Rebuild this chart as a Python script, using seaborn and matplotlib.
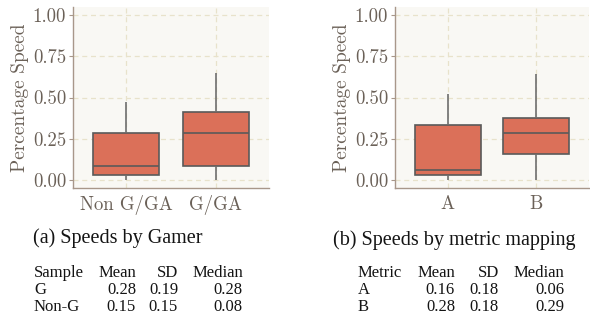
import numpy as np
import pandas as pd
import matplotlib
matplotlib.use("Agg")
import matplotlib.pyplot as plt
import seaborn as sns

# ---- data ----
gamer_cats = ["Non G/GA", "G/GA"]
nong_vals = [0.0, 0.026, 0.081, 0.287, 0.475]
g_vals = [0.0, 0.085, 0.287, 0.414, 0.647]

metric_cats = ["A", "B"]
a_vals = [0.0, 0.026, 0.060, 0.333, 0.519]
b_vals = [0.0, 0.156, 0.287, 0.378, 0.642]

yticks = [0.00, 0.25, 0.50, 0.75, 1.00]

table_a_header = ["Sample", "Mean", "SD", "Median"]
table_a_rows = [["G", "0.28", "0.19", "0.28"],
                ["Non-G", "0.15", "0.15", "0.08"]]
table_b_header = ["Metric", "Mean", "SD", "Median"]
table_b_rows = [["A", "0.16", "0.18", "0.06"],
                ["B", "0.28", "0.18", "0.29"]]
caption_a = "(a) Speeds by Gamer"
caption_b = "(b) Speeds by metric mapping"

df_a = pd.DataFrame({"group": [gamer_cats[0]] * len(nong_vals) + [gamer_cats[1]] * len(g_vals),
                     "speed": nong_vals + g_vals})
df_b = pd.DataFrame({"group": [metric_cats[0]] * len(a_vals) + [metric_cats[1]] * len(b_vals),
                     "speed": a_vals + b_vals})

sns.set_theme(style="white")
plt.rcParams["font.family"] = ["cmr10", "DejaVu Serif"]
plt.rcParams["axes.formatter.use_mathtext"] = True

W, H = 590, 320
fig = plt.figure(figsize=(W / 100, H / 100), dpi=100)
fig.patch.set_facecolor("white")

def px_axes(x0, y0, x1, y1):
    return fig.add_axes([x0 / W, 1 - y1 / H, (x1 - x0) / W, (y1 - y0) / H])

ax1 = px_axes(73, 7, 269, 188)
ax2 = px_axes(395, 7, 589, 188)

box_fill = "#db7059"
edge = "#5a5a5a"
spine_c = "#a8978a"
tick_c = "#6b6158"
bg = "#f9f8f4"
grid_c = "#e8e2cb"

for ax, df, cats in [(ax1, df_a, gamer_cats), (ax2, df_b, metric_cats)]:
    ax.set_facecolor(bg)
    sns.boxplot(data=df, x="group", y="speed", order=cats, ax=ax, color=box_fill,
                saturation=1, width=0.74, whis=(0, 100), linecolor=edge, linewidth=1.2,
                fliersize=0, showcaps=False,
                whiskerprops={"color": "#6e6e6e"})
    ax.set_ylim(-0.05, 1.05)
    ax.set_xlim(-0.6, 1.6)
    ax.set_yticks(yticks)
    ax.set_yticklabels([f"{v:.2f}" for v in yticks])
    ax.set_xlabel("")
    ax.set_ylabel("Percentage Speed", fontsize=14, color=tick_c, labelpad=3)
    ax.grid(True, linestyle=(0, (4, 3)), color=grid_c, linewidth=0.9)
    ax.set_axisbelow(True)
    for s in ["top", "right"]:
        ax.spines[s].set_visible(False)
    for s in ["left", "bottom"]:
        ax.spines[s].set_color(spine_c)
        ax.spines[s].set_linewidth(1.0)
    ax.tick_params(axis="y", length=3, width=0.8, color=spine_c, labelsize=13.5,
                   labelcolor=tick_c, pad=2, left=True)
    ax.tick_params(axis="x", length=0, labelsize=13.5, labelcolor=tick_c, pad=5)

serif = ["Liberation Serif", "DejaVu Serif"]
txt_c = "#141414"

def ftext(x, y, s, ha="left", size=12):
    fig.text(x / W, 1 - y / H, s, ha=ha, va="center", fontsize=size,
             family=serif, color=txt_c)

ftext(33, 238, caption_a, size=14.5)
ftext(333, 240, caption_b, size=14.5)

def table(x_left, x_rights, header, rows):
    ys = [273, 290, 307]
    for r, row in enumerate([header] + rows):
        ftext(x_left, ys[r], row[0])
        for c in range(1, 4):
            ftext(x_rights[c - 1], ys[r], row[c], ha="right")

table(34, [136, 178, 243], table_a_header, table_a_rows)
table(358, [455, 499, 564], table_b_header, table_b_rows)

fig.savefig("out.png", dpi=100)
